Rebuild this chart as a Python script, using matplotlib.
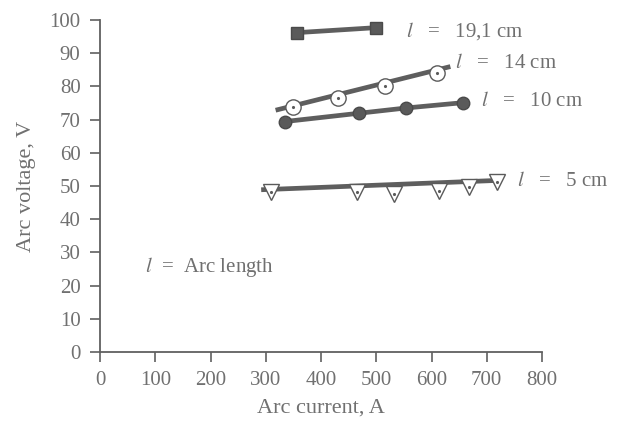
import matplotlib
matplotlib.use("Agg")
import matplotlib.pyplot as plt
import numpy as np

# ---- data ----
cur_191 = [357, 500]
vol_191 = [96.2, 97.7]

cur_14 = [350, 431, 516, 610]
vol_14 = [73.9, 76.5, 80.0, 84.1]
fit_14_x = [322, 630]
fit_14_y = [73.0, 85.8]

cur_10 = [334, 468, 554, 657]
vol_10 = [69.4, 71.9, 73.5, 75.1]

cur_5 = [310, 466, 533, 613, 668, 719]
vol_5 = [48.1, 48.1, 47.6, 48.4, 49.8, 51.3]
fit_5_x = [296, 722]
fit_5_y = [48.9, 51.7]

xticks = [0, 100, 200, 300, 400, 500, 600, 700, 800]
yticks = [0, 10, 20, 30, 40, 50, 60, 70, 80, 90, 100]

labels = ["19,1 cm", "14 cm", "10 cm", "5 cm"]

plt.rcParams['font.family'] = ['Liberation Serif', 'DejaVu Serif']
plt.rcParams['mathtext.fontset'] = 'stix'
txt = '#707070'
lc = '#5e5e5e'

fig = plt.figure(figsize=(6.23, 4.25), dpi=100)
ax = fig.add_axes([100/623, 73/425, 442/623, 332/425])
ax.set_xlim(0, 800)
ax.set_ylim(0, 100)
for s in ['top', 'right']:
    ax.spines[s].set_visible(False)
for s in ['left', 'bottom']:
    ax.spines[s].set_color('#606060')
    ax.spines[s].set_linewidth(1.3)

ax.set_xticks(xticks)
ax.set_yticks(yticks)
ax.tick_params(axis='both', direction='out', length=7, width=1.2, color='#606060',
               labelsize=15, labelcolor=txt, pad=7)

lw = 3.4
# 19.1 cm
ax.plot(cur_191, vol_191, color=lc, lw=lw, marker='s', ms=9, mfc='#5a5a5a', mec='#4a4a4a')
# 14 cm
ax.plot(fit_14_x, fit_14_y, color=lc, lw=lw)
ax.plot(cur_14, vol_14, ls='none', marker='o', ms=11, mfc='white', mec='#5a5a5a', mew=1.0)
ax.plot(cur_14, vol_14, ls='none', marker='.', ms=2.5, color='#5a5a5a')
# 10 cm
ax.plot(cur_10, vol_10, color=lc, lw=lw, marker='o', ms=9, mfc='#5a5a5a', mec='#4a4a4a')
# 5 cm
ax.plot(fit_5_x, fit_5_y, color=lc, lw=lw)
ax.plot(cur_5, vol_5, ls='none', marker='v', ms=11, mfc='white', mec='#5a5a5a', mew=1.0)
ax.plot(cur_5, vol_5, ls='none', marker='.', ms=2.5, color='#5a5a5a')

# series labels
label_pos = [(554, 96.6), (643, 87.0), (689, 75.4), (754, 51.3)]
for lab, (x, y) in zip(labels, label_pos):
    ax.text(x, y, r'$l$' + '   =   ' + lab, fontsize=15, color=txt,
            va='center', ha='left', clip_on=False)

ax.text(81, 25.5, r'$l$' + '  =  Arc length', fontsize=15, color=txt,
        va='center', ha='left')

ax.set_xlabel('Arc current, A', fontsize=16, color=txt, labelpad=6)
ax.set_ylabel('Arc voltage, V', fontsize=16, color=txt, labelpad=10)

fig.savefig('out.png', dpi=100)
